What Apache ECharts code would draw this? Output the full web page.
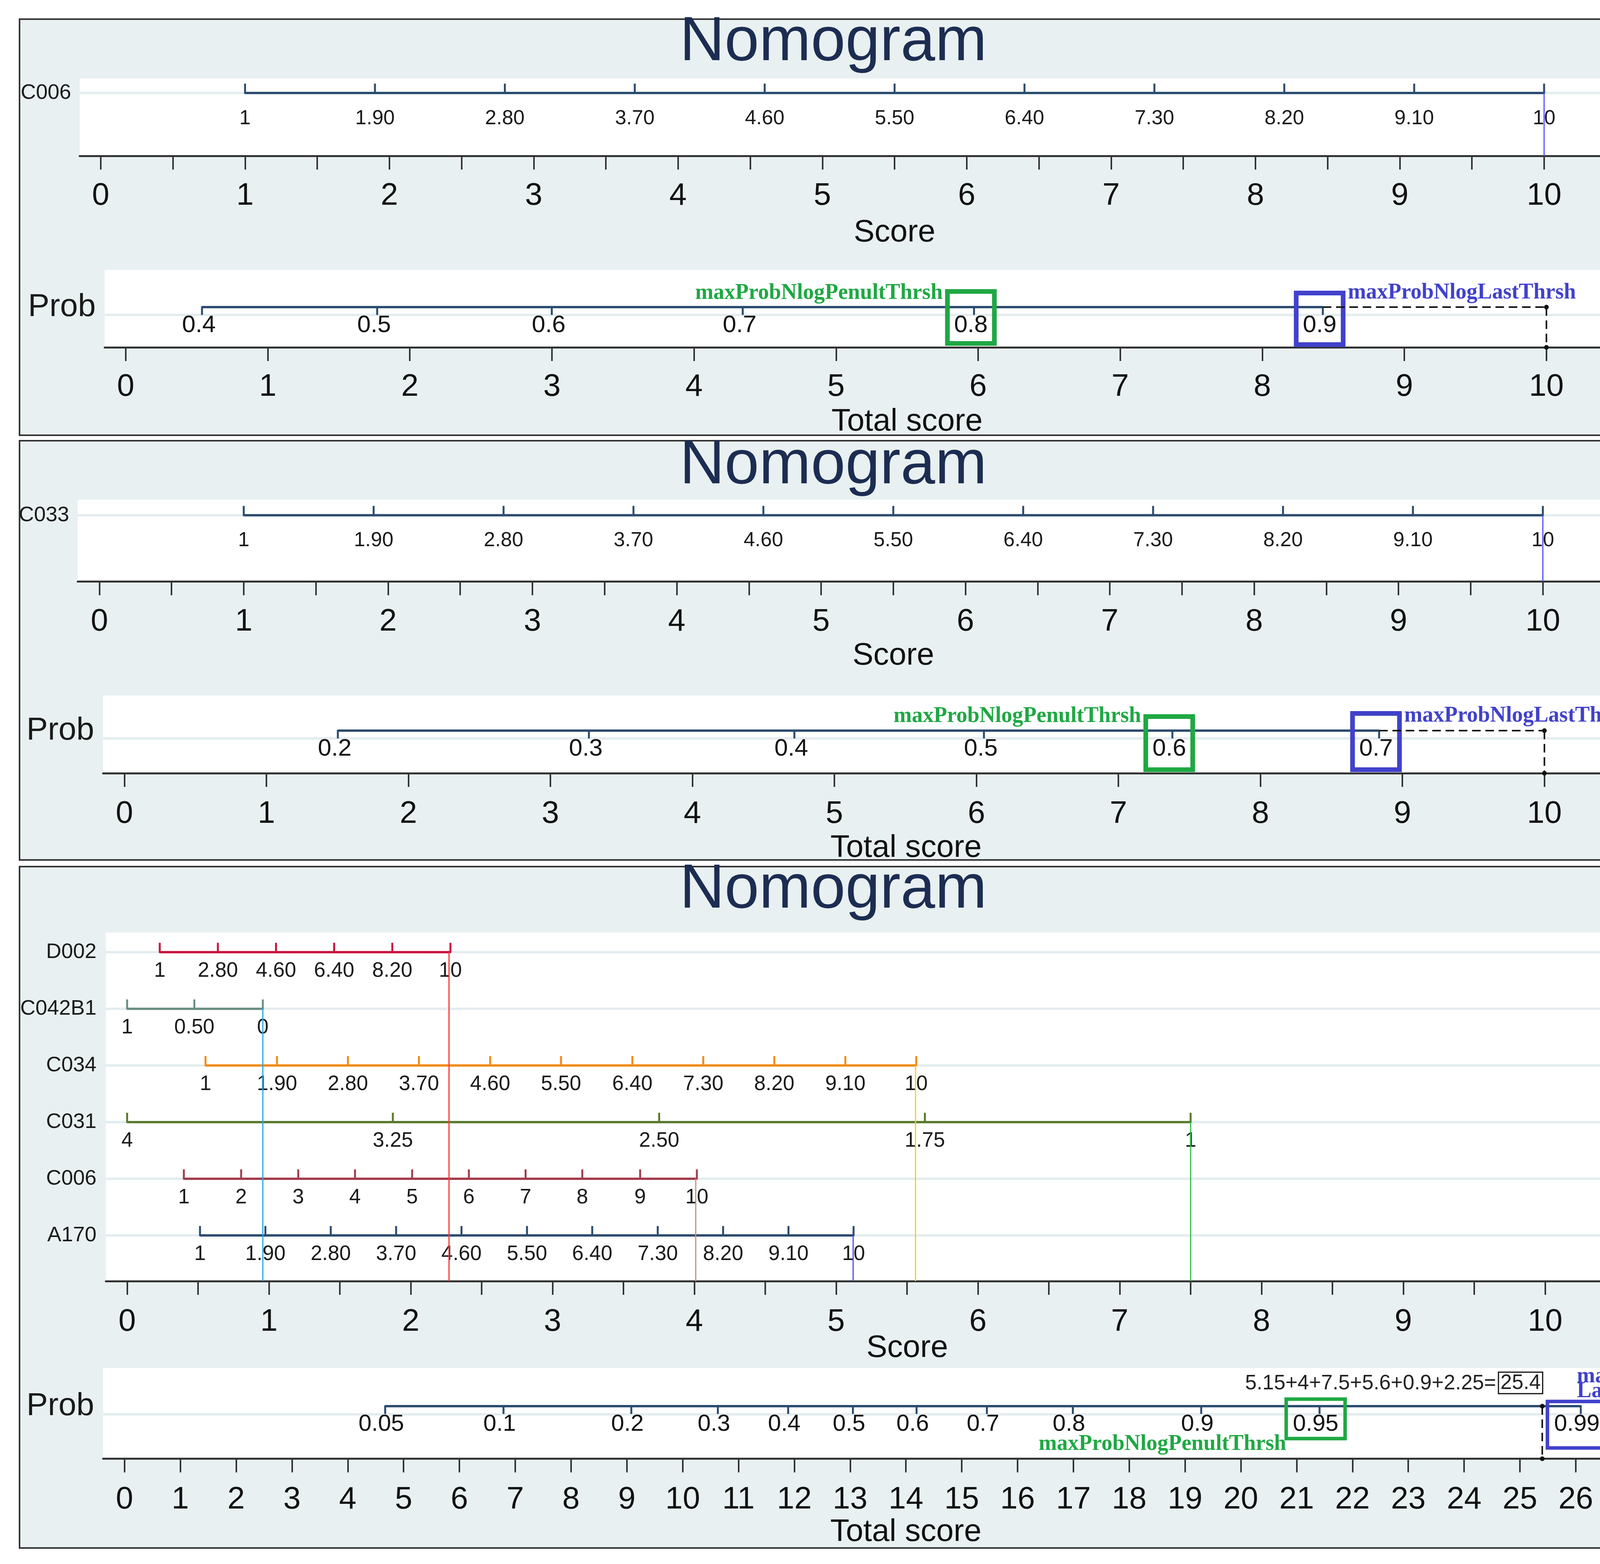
<!DOCTYPE html>
<html><head><meta charset="utf-8">
<script src="https://cdn.jsdelivr.net/npm/echarts@6/dist/echarts.min.js"></script>
<style>html,body{margin:0;padding:0;background:#fff;overflow:hidden}#c{width:4466px;height:4003px}</style>
</head><body><div id="c"></div>
<script>
// ================= DATA =================
// Panel 1
const p1VarName = 'C006';
const p1VarLabels = ['1','1.90','2.80','3.70','4.60','5.50','6.40','7.30','8.20','9.10','10'];
const p1VarScores = [1, 1.9, 2.8, 3.7, 4.6, 5.5, 6.4, 7.3, 8.2, 9.1, 10];
const p1Selected = 10;
const p1ProbLabels = ['0.4','0.5','0.6','0.7','0.8','0.9'];
const p1ProbScores = [0.537, 1.770, 2.999, 4.343, 5.971, 8.426];
const p1Total = 10;
// Panel 2
const p2VarName = 'C033';
const p2VarLabels = ['1','1.90','2.80','3.70','4.60','5.50','6.40','7.30','8.20','9.10','10'];
const p2VarScores = [1, 1.9, 2.8, 3.7, 4.6, 5.5, 6.4, 7.3, 8.2, 9.1, 10];
const p2Selected = 10;
const p2ProbLabels = ['0.2','0.3','0.4','0.5','0.6','0.7'];
const p2ProbScores = [1.503, 3.271, 4.718, 6.053, 7.380, 8.836];
const p2Total = 10;
// Panel 3
const p3VarNames = ['D002','C042B1','C034','C031','C006','A170'];
const d002Labels = ['1','2.80','4.60','6.40','8.20','10'];
const d002Scores = [0.23, 0.64, 1.05, 1.46, 1.87, 2.28];
const c042b1Labels = ['1','0.50','0'];
const c042b1Scores = [0, 0.474, 0.957];
const c034Labels = ['1','1.90','2.80','3.70','4.60','5.50','6.40','7.30','8.20','9.10','10'];
const c034Scores = [0.553, 1.057, 1.557, 2.058, 2.56, 3.06, 3.563, 4.063, 4.564, 5.065, 5.565];
const c031Labels = ['4','3.25','2.50','1.75','1'];
const c031Scores = [0, 1.874, 3.752, 5.626, 7.50];
const c006Labels = ['1','2','3','4','5','6','7','8','9','10'];
const c006Scores = [0.40, 0.804, 1.207, 1.607, 2.01, 2.41, 2.81, 3.21, 3.618, 4.018];
const a170Labels = ['1','1.90','2.80','3.70','4.60','5.50','6.40','7.30','8.20','9.10','10'];
const a170Scores = [0.514, 0.975, 1.436, 1.897, 2.358, 2.82, 3.28, 3.742, 4.203, 4.664, 5.123];
const p3Selected = [2.27, 0.957, 5.56, 7.50, 4.01, 5.12];
const p3Contrib = ['5.15','4','7.5','5.6','0.9','2.25'];
const p3Total = 25.4;
const p3ProbLabels = ['0.05','0.1','0.2','0.3','0.4','0.5','0.6','0.7','0.8','0.9','0.95','0.99'];
const p3ProbScores = [4.67, 6.79, 9.08, 10.63, 11.89, 13.05, 14.19, 15.45, 16.99, 19.29, 21.41, 26.09];
// axis ticks / labels
const scoreHalfTicks = [0,0.5,1,1.5,2,2.5,3,3.5,4,4.5,5,5.5,6,6.5,7,7.5,8,8.5,9,9.5,10,10.5,11];
const scoreIntTicks = [0,1,2,3,4,5,6,7,8,9,10,11];
const total28Ticks = [0,1,2,3,4,5,6,7,8,9,10,11,12,13,14,15,16,17,18,19,20,21,22,23,24,25,26,27,28];
const annPenult = 'maxProbNlogPenultThrsh';
const annLast = 'maxProbNlogLastThrsh';

// ================= STYLE / LAYOUT =================
const FONT = '"Liberation Sans", Arial, sans-serif';
const SERIF = '"Liberation Serif", "Times New Roman", serif';
const NAVY = '#2c4c70';
const GREEN = '#1fa843';
const BLUE = '#4141cc';
const BG = '#e9f0f1';
const GRIDLINE = '#e3ecef';
const p3Colors = ['#c9163f','#6d8f86','#f18c17','#5a7b2f','#a23f4b','#2c4c70'];
const p3VColors = ['#ff3535','#22a8e6','#ffcc11','#2cbf4a','#c99072','#4a4af0'];

const PANELS = [
  {x:50, y:49, w:4353, h:1065, titleTop:31},
  {x:50, y:1128, w:4353, h:1073, titleTop:1114},
  {x:50, y:2218, w:4353, h:1744, titleTop:2200}
];
const GRIDS = [
  {left:204, top:201, width:4172, height:198, x:[-0.1456,11.145], y:[-0.187,0.813], ticks:scoreHalfTicks, labels:scoreIntTicks, name:'Score', gap:157, margin:63, rowFont:54, rowMargin:22},
  {left:268, top:691, width:4108, height:198, x:[-0.148,11.147], y:[-0.48,0.52], ticks:scoreIntTicks, labels:scoreIntTicks, name:'Total score', gap:151, margin:62, rowFont:82, rowMargin:23},
  {left:199, top:1279, width:4176, height:209.5, x:[-0.150,11.151], y:[-0.19,0.81], ticks:scoreHalfTicks, labels:scoreIntTicks, name:'Score', gap:150, margin:63, rowFont:54, rowMargin:22},
  {left:264, top:1780, width:4111, height:199, x:[-0.150,11.159], y:[-0.452,0.548], ticks:scoreIntTicks, labels:scoreIntTicks, name:'Total score', gap:152, margin:65, rowFont:82, rowMargin:23},
  {left:271, top:2387, width:4103, height:892, x:[-0.150,11.153], y:[-0.345,5.807], ticks:scoreHalfTicks, labels:scoreIntTicks, name:'Score', gap:132, margin:65, rowFont:54, rowMargin:24},
  {left:264, top:3501, width:4110, height:232.6, x:[-0.383,28.38], y:[-0.421,0.579], ticks:total28Ticks, labels:total28Ticks, name:'Total score', gap:148, margin:65, rowFont:82, rowMargin:23}
];
const rowNames = [[p1VarName],['Prob'],[p2VarName],['Prob'],p3VarNames,['Prob']];

const mctx = document.createElement('canvas').getContext('2d');
function tw(text, font){ mctx.font = font; return mctx.measureText(text).width; }

// ================= SERIES BUILDERS =================
function gridlineSeries(gi, rows, offset){
  return {type:'custom', xAxisIndex:gi, yAxisIndex:gi, z:1, silent:true, animation:false,
    data: rows.map(r => [0, r]),
    renderItem: (params, api) => {
      const p = api.coord([api.value(0), api.value(1)]);
      const cs = params.coordSys;
      return {type:'line', shape:{x1:cs.x, y1:p[1]+offset, x2:cs.x+cs.width, y2:p[1]+offset},
        style:{stroke:GRIDLINE, lineWidth:6}};
    }};
}
function lineSeries(gi, row, scores, color){
  return {type:'line', xAxisIndex:gi, yAxisIndex:gi, z:3, silent:true, animation:false,
    symbol:'none', lineStyle:{color:color, width:6, cap:'butt'},
    data:[[scores[0], row], [scores[scores.length-1], row]]};
}
function rowTickSeries(gi, row, labels, scores, color, labelDy, fontSize){
  return {type:'custom', xAxisIndex:gi, yAxisIndex:gi, z:4, silent:true, animation:false,
    data: scores.map(s => [s, row]),
    renderItem: (params, api) => {
      const p = api.coord([api.value(0), api.value(1)]);
      return {type:'group', children:[
        {type:'line', shape:{x1:p[0], y1:p[1]+2, x2:p[0], y2:p[1]-24}, style:{stroke:color, lineWidth:5}},
        {type:'text', x:p[0], y:p[1]+labelDy, style:{text:labels[params.dataIndex], fill:'#1a1a1a',
          font:fontSize+'px '+FONT, align:'center', verticalAlign:'middle'}}
      ]};
    }};
}
function selectSeries(gi, points, colors){
  return {type:'custom', xAxisIndex:gi, yAxisIndex:gi, z:6, silent:true, animation:false,
    data: points,
    renderItem: (params, api) => {
      const p = api.coord([api.value(0), api.value(1)]);
      const cs = params.coordSys;
      return {type:'line', shape:{x1:p[0], y1:p[1], x2:p[0], y2:cs.y+cs.height},
        style:{stroke:colors[params.dataIndex], lineWidth:3}};
    }};
}
// prob ticks with highlight boxes and annotations
function probTickSeries(gi, labels, scores, cfg){
  const pen = labels.length - 2, last = labels.length - 1;
  const lf = cfg.font + 'px ' + FONT;
  const af = 'bold 56px ' + SERIF;
  return {type:'custom', xAxisIndex:gi, yAxisIndex:gi, z:4, silent:true, animation:false,
    data: scores.map(s => [s, 0]),
    renderItem: (params, api) => {
      const i = params.dataIndex;
      const p = api.coord([api.value(0), api.value(1)]);
      const lx = p[0] + cfg.shift;
      const kids = [
        {type:'line', shape:{x1:p[0], y1:p[1]-2, x2:p[0], y2:p[1]+20}, style:{stroke:NAVY, lineWidth:5}},
        {type:'text', x:lx, y:p[1]+47, style:{text:labels[i], fill:'#111', font:lf, align:'center', verticalAlign:'middle'}}
      ];
      if (i === pen || i === last) {
        const b = i === pen ? cfg.penBox : cfg.lastBox;
        const w = tw(labels[i], lf) + 34;
        const bx = lx - w/2, by = p[1] + b[0], bh = b[1] - b[0];
        const col = i === pen ? GREEN : BLUE;
        kids.push({type:'rect', shape:{x:bx, y:by, width:w, height:bh}, style:{fill:null, stroke:col, lineWidth:cfg.boxLw}, z2:10});
        if (cfg.mode === 'inline') {
          if (i === pen) kids.push({type:'text', x:bx-12, y:p[1]-36, style:{text:annPenult, fill:GREEN, font:af, align:'right', verticalAlign:'middle'}});
          else kids.push({type:'text', x:bx+w+12, y:p[1]-37, style:{text:annLast, fill:BLUE, font:af, align:'left', verticalAlign:'middle'}});
        } else {
          if (i === pen) kids.push({type:'text', x:bx, y:p[1]+98, style:{text:annPenult, fill:GREEN, font:af, align:'right', verticalAlign:'middle'}});
          else kids.push({type:'text', x:bx+w/2, y:p[1]-94, style:{text:'maxProbNlog\nLastThrsh', fill:BLUE, font:af, lineHeight:38, align:'left', verticalAlign:'top'}});
        }
      }
      return {type:'group', children:kids};
    }};
}
function totalSeries(gi, total, lastScore, sumText){
  return {type:'custom', xAxisIndex:gi, yAxisIndex:gi, z:7, silent:true, animation:false,
    data: [[total, 0]],
    renderItem: (params, api) => {
      const t = api.coord([api.value(0), api.value(1)]);
      const l = api.coord([lastScore, 0]);
      const cs = params.coordSys;
      const ay = cs.y + cs.height;
      const dash = {stroke:'#111', lineWidth:4, lineDash:[22,12]};
      const kids = [];
      if (total > lastScore) kids.push({type:'line', shape:{x1:l[0], y1:t[1], x2:t[0], y2:t[1]}, style:dash});
      kids.push({type:'line', shape:{x1:t[0], y1:t[1], x2:t[0], y2:ay}, style:dash});
      kids.push({type:'circle', shape:{cx:t[0], cy:t[1], r:6}, style:{fill:'#111'}});
      kids.push({type:'circle', shape:{cx:t[0], cy:ay, r:6}, style:{fill:'#111'}});
      if (sumText) {
        const sf = '53px ' + FONT;
        const totTxt = String(total);
        const bw = tw(totTxt, sf) + 10;
        const bx = t[0] - bw + 1, by = t[1] - 87;
        kids.push({type:'rect', shape:{x:bx, y:by, width:bw, height:55}, style:{fill:'#fff', stroke:'#111', lineWidth:3}});
        kids.push({type:'text', x:bx + bw/2, y:by + 28, style:{text:totTxt, fill:'#222', font:sf, align:'center', verticalAlign:'middle'}});
        kids.push({type:'text', x:bx - 6, y:t[1] - 58, style:{text:sumText, fill:'#222', font:sf, align:'right', verticalAlign:'middle'}});
      }
      return {type:'group', children:kids};
    }};
}

// ================= OPTION =================
const grid = GRIDS.map(g => ({left:g.left, top:g.top, width:g.width, height:g.height, show:true,
  backgroundColor:'#fff', borderWidth:0, containLabel:false, outerBoundsMode:'none'}));
const xAxis = GRIDS.map((g, i) => ({
  gridIndex:i, type:'value', min:g.x[0], max:g.x[1],
  axisLine:{show:true, onZero:false, lineStyle:{color:'#333', width:5}},
  axisTick:{show:true, length:35, customValues:g.ticks, lineStyle:{color:'#333', width:4}},
  axisLabel:{show:true, customValues:g.labels, margin:g.margin, fontSize:80, color:'#111', fontFamily:FONT},
  splitLine:{show:false},
  name:g.name, nameLocation:'middle', nameGap:g.gap, nameMoveOverlap:false,
  nameTextStyle:{fontSize:80, color:'#111', fontFamily:FONT}
}));
const yAxis = GRIDS.map((g, i) => ({
  gridIndex:i, type:'value', inverse:true, min:g.y[0], max:g.y[1],
  axisLine:{show:false}, axisTick:{show:false}, splitLine:{show:false},
  axisLabel:{show:true, customValues:rowNames[i].map((_, k) => k), margin:g.rowMargin,
    fontSize:g.rowFont, color:'#1a1a1a', fontFamily:FONT,
    formatter: v => rowNames[i][Math.round(v)] || ''}
}));

const series = [];
// panel 1
series.push(gridlineSeries(0, [0], 0));
series.push(lineSeries(0, 0, p1VarScores, NAVY));
series.push(rowTickSeries(0, 0, p1VarLabels, p1VarScores, NAVY, 66, 52));
series.push(selectSeries(0, [[p1Selected, 0]], ['#5252ff']));
series.push(gridlineSeries(1, [0], 20));
series.push(lineSeries(1, 0, p1ProbScores, NAVY));
series.push(probTickSeries(1, p1ProbLabels, p1ProbScores, {font:62, shift:-8, penBox:[-40,93], lastBox:[-36,96], boxLw:12, mode:'inline'}));
series.push(totalSeries(1, p1Total, p1ProbScores[p1ProbScores.length-1], null));
// panel 2
series.push(gridlineSeries(2, [0], 0));
series.push(lineSeries(2, 0, p2VarScores, NAVY));
series.push(rowTickSeries(2, 0, p2VarLabels, p2VarScores, NAVY, 65, 52));
series.push(selectSeries(2, [[p2Selected, 0]], ['#5252ff']));
series.push(gridlineSeries(3, [0], 20));
series.push(lineSeries(3, 0, p2ProbScores, NAVY));
series.push(probTickSeries(3, p2ProbLabels, p2ProbScores, {font:62, shift:-8, penBox:[-36,100], lastBox:[-44,100], boxLw:12, mode:'inline'}));
series.push(totalSeries(3, p2Total, p2ProbScores[p2ProbScores.length-1], null));
// panel 3
const p3Labels = [d002Labels, c042b1Labels, c034Labels, c031Labels, c006Labels, a170Labels];
const p3Scores = [d002Scores, c042b1Scores, c034Scores, c031Scores, c006Scores, a170Scores];
series.push(gridlineSeries(4, [0,1,2,3,4,5], 0));
p3Scores.forEach((sc, r) => {
  series.push(lineSeries(4, r, sc, p3Colors[r]));
  series.push(rowTickSeries(4, r, p3Labels[r], sc, p3Colors[r], 48, 53));
});
series.push(selectSeries(4, p3Selected.map((s, r) => [s, r]), p3VColors));
series.push(gridlineSeries(5, [0], 21));
series.push(lineSeries(5, 0, p3ProbScores, NAVY));
series.push(probTickSeries(5, p3ProbLabels, p3ProbScores, {font:60, shift:-10, penBox:[-18,83], lastBox:[-12,107], boxLw:9, mode:'stacked'}));
series.push(totalSeries(5, p3Total, p3ProbScores[p3ProbScores.length-1], p3Contrib.join('+') + '='));

const option = {
  animation:false,
  backgroundColor:'#ffffff',
  title: PANELS.map(p => ({text:'Nomogram', left:1740, top:p.titleTop, padding:0,
    textStyle:{fontSize:159, fontWeight:'normal', color:'#1c2d52', fontFamily:FONT}})),
  graphic: PANELS.map(p => ({type:'rect', z:-10, silent:true,
    shape:{x:p.x, y:p.y, width:p.w, height:p.h}, style:{fill:BG, stroke:'#333', lineWidth:4}})),
  grid, xAxis, yAxis, series
};
const chart = echarts.init(document.getElementById('c'), null, {renderer:'canvas'});
chart.setOption(option);
</script></body></html>
